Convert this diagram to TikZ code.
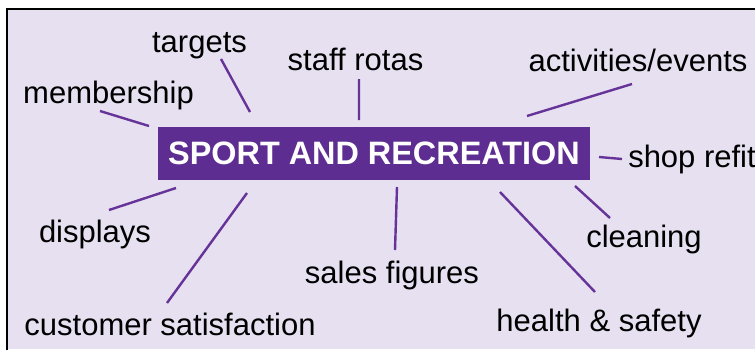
\documentclass[tikz,border=0pt]{standalone}
\usepackage{fontspec}
\setmainfont{Liberation Sans}
\usetikzlibrary{positioning}

\definecolor{sportpurple}{RGB}{94,45,145}
\definecolor{linepurple}{RGB}{102,51,153}
\definecolor{paneltint}{RGB}{230,224,240}

\tikzset{
  topic/.style={fill=sportpurple, text=white, inner sep=0pt,
    minimum width=432pt, minimum height=53pt,
    font=\fontsize{32.4}{32.4}\selectfont\bfseries},
  idea/.style={inner sep=0pt, text height=22pt, text depth=6pt,
    font=\fontsize{31}{31}\selectfont},
  spoke/.style={draw=linepurple, line width=2.4pt}
}

\begin{document}
\begin{tikzpicture}[x=1pt,y=1pt,node distance=100pt,on grid]
  \useasboundingbox (0,0) rectangle (755,349);
  \fill[white] (0,0) rectangle (755,349);
  \fill[paneltint] (7,0) rectangle (755,340);
  \draw[line width=2.4pt] (7,-5) |- (760,340);

  \node[topic] (box) at (374,195.5) {SPORT AND RECREATION};

  \node[idea] (targets) [above left=109.5pt and 174.5pt of box] {targets};
  \node[idea] (rotas) [above left=91.5pt and 18.5pt of box] {staff rotas};
  \node[idea] (events) [above right=89.5pt and 264pt of box] {activities/events};
  \node[idea] (membership) [above left=58.5pt and 265.5pt of box] {membership};
  \node[idea] (refit) [below right=5.5pt and 318pt of box] {shop refit};
  \node[idea] (displays) [below left=80.5pt and 279pt of box] {displays};
  \node[idea] (cleaning) [below right=85.5pt and 270pt of box] {cleaning};
  \node[idea] (sales) [below right=121.5pt and 18pt of box] {sales figures};
  \node[idea] (customer) [below left=173.5pt and 204pt of box] {customer satisfaction};
  \node[idea] (health) [below right=169.5pt and 225pt of box] {health \& safety};

  % spoke ends
  \coordinate (membership-out) at (100,238);
  \coordinate (membership-in) at (149,223);
  \coordinate (targets-out) at (221,290);
  \coordinate (targets-in) at (250,237);
  \coordinate (rotas-out) at (359,270);
  \coordinate (rotas-in) at (359,229);
  \coordinate (events-out) at (632,265);
  \coordinate (events-in) at (527,233);
  \coordinate (refit-in) at (599,192);
  \coordinate (refit-out) at (622,190);
  \coordinate (displays-out) at (109,139);
  \coordinate (displays-in) at (176,161);
  \coordinate (customer-in) at (247,156);
  \coordinate (customer-out) at (167,46);
  \coordinate (sales-in) at (397,162);
  \coordinate (sales-out) at (395,99);
  \coordinate (health-in) at (500,157);
  \coordinate (health-out) at (595,57);
  \coordinate (cleaning-in) at (575,163);
  \coordinate (cleaning-out) at (610,131);

  \path[spoke] (membership-out) -- (membership-in)
               (targets-out) -- (targets-in)
               (rotas-out) -- (rotas-in)
               (events-out) -- (events-in)
               (refit-in) -- (refit-out)
               (displays-out) -- (displays-in)
               (customer-in) -- (customer-out)
               (sales-in) -- (sales-out)
               (health-in) -- (health-out)
               (cleaning-in) -- (cleaning-out);
\end{tikzpicture}
\end{document}
